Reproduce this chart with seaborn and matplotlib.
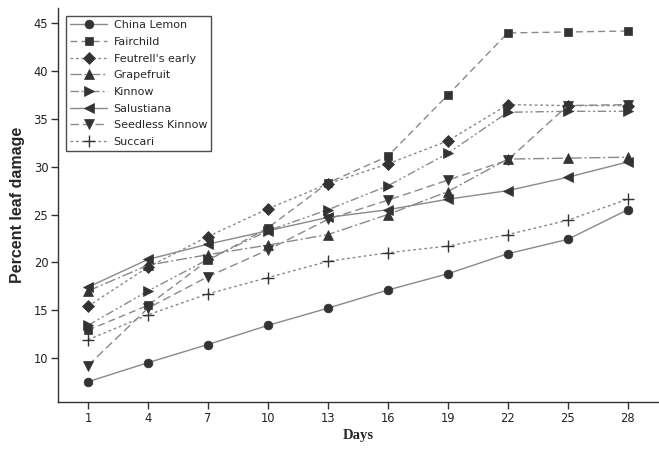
import matplotlib
matplotlib.use("Agg")
import matplotlib.pyplot as plt
import seaborn as sns
import pandas as pd

days = [1, 4, 7, 10, 13, 16, 19, 22, 25, 28]
cultivars = ["China Lemon", "Fairchild", "Feutrell's early", "Grapefruit",
             "Kinnow", "Salustiana", "Seedless Kinnow", "Succari"]

china_lemon = [7.5, 9.5, 11.4, 13.4, 15.2, 17.1, 18.8, 20.9, 22.4, 25.5]
fairchild = [12.9, 15.5, 20.2, 23.6, 28.3, 31.1, 37.5, 44.0, 44.1, 44.2]
feutrells = [15.4, 19.5, 22.7, 25.6, 28.2, 30.3, 32.7, 36.5, 36.4, 36.4]
grapefruit = [17.0, 19.7, 20.8, 21.8, 22.9, 25.0, 27.4, 30.8, 30.9, 31.0]
kinnow = [13.4, 17.0, 20.3, 23.3, 25.5, 28.0, 31.4, 35.7, 35.8, 35.8]
salustiana = [17.4, 20.3, 21.9, 23.3, 24.7, 25.5, 26.6, 27.5, 28.9, 30.5]
seedless = [9.2, 15.2, 18.5, 21.3, 24.5, 26.5, 28.6, 30.7, 36.4, 36.5]
succari = [11.9, 14.5, 16.7, 18.4, 20.1, 21.0, 21.7, 22.9, 24.4, 26.6]

series = [china_lemon, fairchild, feutrells, grapefruit, kinnow,
          salustiana, seedless, succari]

rows = []
for name, vals in zip(cultivars, series):
    for d, v in zip(days, vals):
        rows.append({"cultivar": name, "day": d, "damage": v})
df = pd.DataFrame(rows)

markers = ["o", "s", "D", "^", ">", "<", "v", "+"]
styles = ["-", (0, (5, 3)), (0, (2, 2)), (0, (8, 2, 1.5, 2)),
          (0, (6, 2, 1.5, 2, 1.5, 2)), "-", (0, (6, 3)), (0, (2, 2))]
msizes = [6.3, 6.0, 5.8, 6.6, 6.6, 6.6, 6.6, 9]

sns.set_style("white")
fig = plt.figure(figsize=(6.59, 4.49), dpi=100)
ax = fig.add_axes([0.088, 0.105, 0.910, 0.877])

line_col = "#8a8a8a"
mark_col = "#333333"
handles = []
for name, mk, ls, ms in zip(cultivars, markers, styles, msizes):
    sub = df[df["cultivar"] == name]
    sns.lineplot(data=sub, x="day", y="damage", ax=ax, color=line_col,
                 linewidth=1.0, linestyle=ls, marker=mk, markersize=ms,
                 markerfacecolor=mark_col, markeredgecolor=mark_col,
                 markeredgewidth=1.0 if mk == "+" else 0.5,
                 label=name, legend=False)
    handles.append(ax.lines[-1])

ax.set_xlim(-0.5, 29.5)
ax.set_ylim(5.4, 46.6)
ax.set_xticks(days)
ax.set_yticks([10, 15, 20, 25, 30, 35, 40, 45])

for s in ["top", "right"]:
    ax.spines[s].set_visible(False)
for s in ["left", "bottom"]:
    ax.spines[s].set_color("#333333")
    ax.spines[s].set_linewidth(1.0)

ax.tick_params(axis="both", direction="out", length=5, width=1,
               color="#333333", labelsize=8.3, labelcolor="#222222",
               left=True, bottom=True, pad=2)

ax.set_xlabel("Days", fontfamily="Liberation Serif", fontweight="bold",
              fontsize=10.5, labelpad=3)
ax.set_ylabel("Percent leaf damage", fontfamily="Liberation Sans",
              fontweight="bold", fontsize=11.5, labelpad=6)

leg = ax.legend(handles=handles, labels=cultivars, loc="upper left",
                fontsize=8, frameon=True, fancybox=False,
                edgecolor="#222222", handlelength=3.3, labelspacing=0.6,
                borderaxespad=0.7, handletextpad=0.6, borderpad=0.4)
leg.get_frame().set_linewidth(1.0)

fig.savefig("out.png", dpi=100)
